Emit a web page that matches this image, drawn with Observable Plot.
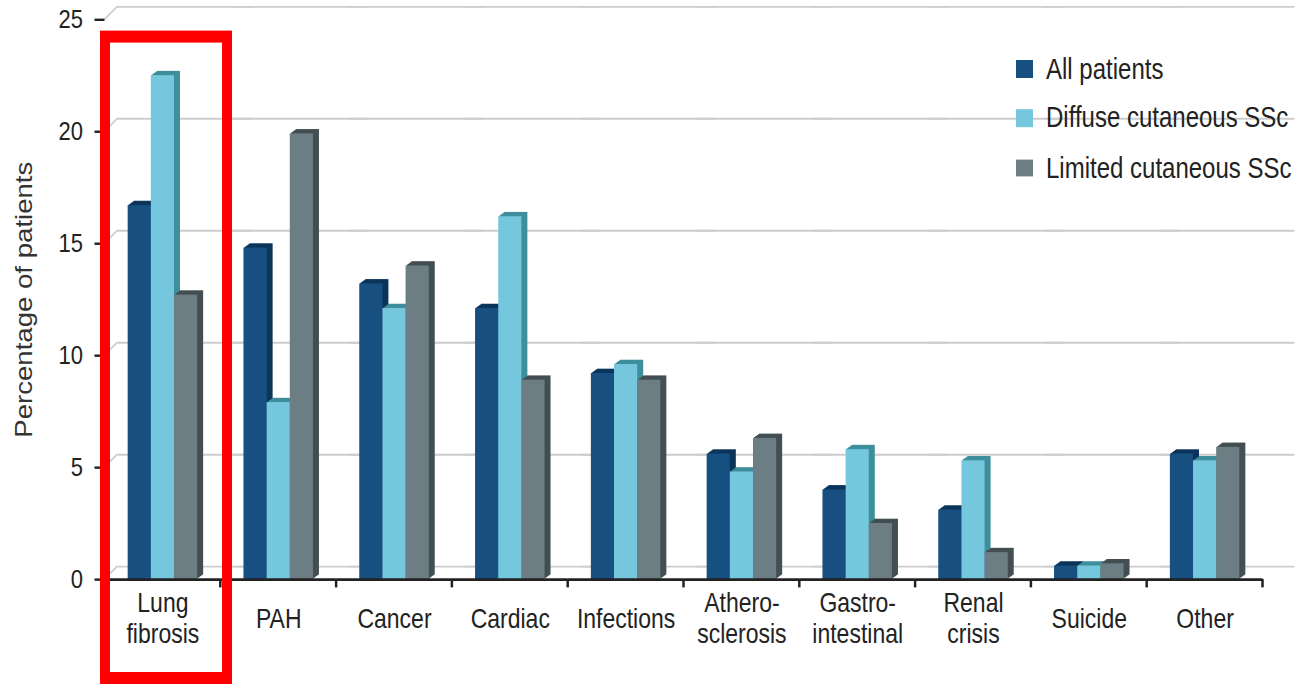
<!DOCTYPE html>
<html>
<head>
<meta charset="utf-8">
<script src="https://cdn.jsdelivr.net/npm/d3@7"></script>
<script src="https://cdn.jsdelivr.net/npm/@observablehq/plot@0.6"></script>
<style>
  html, body { margin: 0; padding: 0; background: #fff; }
  #page { position: relative; width: 1315px; height: 685px; overflow: hidden; }
  /* the figure is drawn on a 571px-tall canvas and stretched vertically */
  #wrap {
    position: absolute; left: 0; top: 0; width: 1315px; height: 571px;
    transform: scaleY(1.2); transform-origin: 0 0;
    font-family: "Liberation Sans", Arial, sans-serif;
  }
  #legend { position: absolute; left: 1016px; top: 0; }
  .row { position: absolute; left: 0; display: flex; align-items: center; height: 26px;
         white-space: nowrap; font-size: 24px; color: #222; }
  .sw { width: 17px; height: 14.5px; margin-right: 13px; flex: none; }
</style>
</head>
<body>
<div id="page"><div id="wrap"><div id="legend"></div></div></div>
<script>
// Causes of death, % of patients
const categories = ["Lung\nfibrosis", "PAH", "Cancer", "Cardiac", "Infections",
  "Athero-\nsclerosis", "Gastro-\nintestinal", "Renal\ncrisis", "Suicide", "Other"];
const series = ["All patients", "Diffuse cutaneous SSc", "Limited cutaneous SSc"];
const allPatients = [16.7, 14.8, 13.2, 12.1, 9.2, 5.6, 4.0, 3.1, 0.6, 5.6];
const diffuseSSc  = [22.5,  7.9, 12.1, 16.2, 9.6, 4.8, 5.8, 5.3, 0.6, 5.3];
const limitedSSc  = [12.7, 19.9, 14.0,  8.9, 8.9, 6.3, 2.5, 1.2, 0.7, 5.9];
const yTicks = [0, 5, 10, 15, 20, 25];
const yLabel = "Percentage of patients";
const highlighted = ["Lung\nfibrosis"];

const faceColors = ["#164f80", "#75c7de", "#6c7e83"];
const sideColors = ["#0c355c", "#3f8f9c", "#434f52"];

const rows = categories.flatMap((c, i) =>
  [allPatients[i], diffuseSSc[i], limitedSSc[i]].map((v, j) => ({category: c, series: series[j], value: v})));

// extruded side + top faces of each bar, stacked one pixel at a time
const depth = [6, 5, 4, 3, 2, 1];
const extrusion = series.flatMap((s, j) => depth.map(k =>
  Plot.barY(rows.filter(d => d.series === s), {
    fx: "category", x: "series", y: "value", fill: sideColors[j], dx: k, dy: -0.6 * k
  })));

const font = "'Liberation Sans', Arial, sans-serif";

const chart = Plot.plot({
  width: 1315, height: 571,
  marginTop: 16, marginBottom: 88.5, marginLeft: 104.5, marginRight: 52.5,
  style: {fontFamily: font, background: "transparent", color: "#222", overflow: "visible"},
  fx: {domain: categories, padding: 0, round: false, axis: null},
  x: {domain: series, paddingInner: 0, paddingOuter: 1, round: false, axis: null},
  y: {domain: [0, 25]},
  color: {domain: series, range: faceColors},
  marks: [
    // back-wall gridlines
    Plot.ruleY(yTicks, {stroke: "#cdcdcd", strokeWidth: 1.6, dx: 13, dy: -10.8, insetRight: -19}),
    ...extrusion,
    Plot.barY(rows, {fx: "category", x: "series", y: "value", fill: "series"}),
    Plot.ruleY([0], {stroke: "#222", strokeWidth: 2.2}),
    Plot.axisY({ticks: yTicks, tickSize: 10, tickPadding: 12, fontSize: 22, label: null, line: true, strokeWidth: 2}),
    Plot.text([yLabel], {fx: () => categories[0], text: d => d, frameAnchor: "left", textAnchor: "middle",
      rotate: -90, dx: -80, fontSize: 23, fill: "#333"}),
    Plot.text(categories, {fx: d => d, text: d => d, frameAnchor: "bottom", lineAnchor: "middle",
      dy: 32, fontSize: 23, lineHeight: 1.12, fill: "#222"}),
    // highlight box around the first category
    Plot.rect(highlighted, {fx: d => d, fill: "none", stroke: "#ff0000", strokeWidth: 10,
      insetLeft: 0.5, insetRight: -6.7, insetTop: 14.5, insetBottom: -82.5})
  ]
});

// category separator ticks on the x axis and the wall/axis joins, placed from the plot's own scales
const fx = chart.scale("fx");
const yS = chart.scale("y");
const bw = fx.bandwidth ?? ((fx.range[1] - fx.range[0]) / categories.length);
const edges = categories.map(c => fx.apply(c)).concat(fx.apply(categories[categories.length - 1]) + bw);
const y0 = yS.apply(0);
d3.select(chart).insert("g", ":first-child")
  .attr("stroke", "#cdcdcd").attr("stroke-width", 1.6)
  .selectAll("line").data(yTicks).join("line")
  .attr("x1", edges[0]).attr("x2", edges[0] + 13)
  .attr("y1", d => yS.apply(d)).attr("y2", d => yS.apply(d) - 10.8);
const highlightBox = chart.querySelector(":scope > g:last-of-type");
d3.select(chart).append("g")
  .attr("stroke", "#222").attr("stroke-width", 2.5)
  .selectAll("line").data(edges).join("line")
  .attr("x1", d => d).attr("x2", d => d).attr("y1", y0).attr("y2", y0 + 7);
// keep the highlight box on top
chart.appendChild(highlightBox);

document.getElementById("wrap").prepend(chart);

// legend
const legend = d3.select("#legend");
const rowCenters = [57.5, 98.3, 140];
series.forEach((s, j) => {
  const r = legend.append("div").attr("class", "row").style("top", (rowCenters[j] - 13) + "px");
  r.append("div").attr("class", "sw").style("background", faceColors[j]);
  r.append("span").text(s);
});
</script>
</body>
</html>
